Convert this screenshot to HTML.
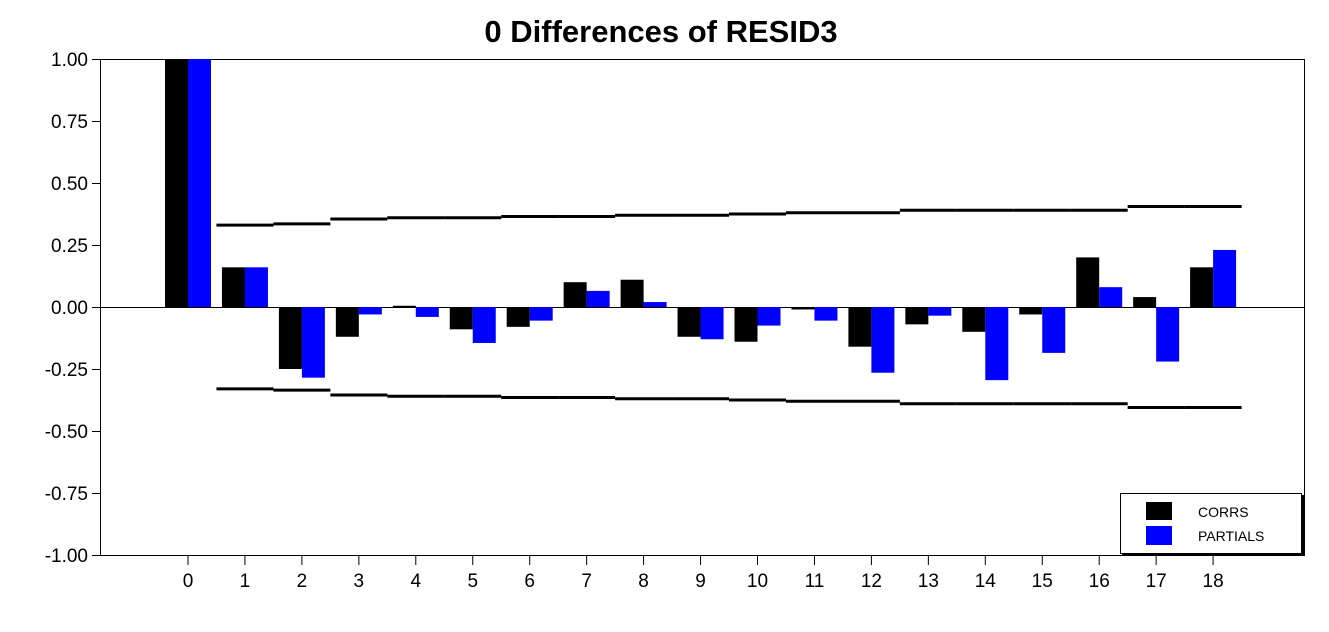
<!DOCTYPE html>
<html><head><meta charset="utf-8"><style>
body{margin:0;background:#fff}
text{font-family:"Liberation Sans",Arial,sans-serif}
</style></head><body>
<svg id="chart" width="1329" height="627" xmlns="http://www.w3.org/2000/svg">
<text x="661" y="42" text-anchor="middle" font-size="31" font-weight="bold">0 Differences of RESID3</text>
<rect x="100.5" y="59.5" width="1204" height="496" fill="none" stroke="#000" stroke-width="1"/>
<g id="g"></g>
<g>
<rect x="1122" y="495" width="182" height="61" fill="#000"/>
<rect x="1120.5" y="493.5" width="181" height="60" fill="#fff" stroke="#000"/>
<rect x="1146" y="502" width="26" height="18" fill="#000"/>
<rect x="1146" y="526" width="26" height="19" fill="#0000ff"/>
<text x="1198" y="517" font-size="14">CORRS</text>
<text x="1198" y="541" font-size="14">PARTIALS</text>
</g>
</svg>
<script>
const lags=[0,1,2,3,4,5,6,7,8,9,10,11,12,13,14,15,16,17,18];
const corrs=[1,0.16,-0.25,-0.12,0.005,-0.09,-0.08,0.10,0.11,-0.12,-0.14,-0.01,-0.16,-0.07,-0.10,-0.03,0.20,0.04,0.16];
const partials=[1,0.16,-0.285,-0.03,-0.04,-0.145,-0.055,0.065,0.02,-0.13,-0.075,-0.055,-0.265,-0.035,-0.295,-0.185,0.08,-0.22,0.23];
const bounds=[null,0.33,0.335,0.355,0.36,0.36,0.365,0.365,0.37,0.37,0.375,0.38,0.38,0.39,0.39,0.39,0.39,0.405,0.405];
const yTicks=["1.00","0.75","0.50","0.25","0.00","-0.25","-0.50","-0.75","-1.00"];
const NS="http://www.w3.org/2000/svg";
const g=document.getElementById('g');
const y=v=>307-v*248;
const x=i=>188+i*56.95;
function mk(t,a){const e=document.createElementNS(NS,t);for(const k in a)e.setAttribute(k,a[k]);g.appendChild(e);return e;}
yTicks.forEach(t=>{const v=parseFloat(t);
 const l=mk('line',{x1:92,x2:100,y1:y(v)+0.5,y2:y(v)+0.5,stroke:'#000'});
 
 const tx=mk('text',{x:88,y:y(v)+7,'text-anchor':'end','font-size':'19'});tx.textContent=t;
 });
const z=mk('line',{x1:100,x2:1304,y1:307.5,y2:307.5,stroke:'#000'});

lags.forEach((L,i)=>{
 const cx=x(i);
 const t=mk('line',{x1:cx,x2:cx,y1:556,y2:565,stroke:'#000'});
 
 const tx=mk('text',{x:cx,y:587,'text-anchor':'middle','font-size':'19'});tx.textContent=L;
 
 const c=corrs[i],p=partials[i];
 const b1=mk('rect',{x:cx-23,width:23,y:Math.min(y(c),y(0)),height:Math.abs(y(c)-y(0)),fill:'#000'});
 
 const b2=mk('rect',{x:cx,width:23,y:Math.min(y(p),y(0)),height:Math.abs(y(p)-y(0)),fill:'#0000ff'});
 
 if(bounds[i]!=null){
  [1,-1].forEach(s=>{const l=mk('line',{x1:cx-28.5,x2:cx+28.5,y1:y(s*bounds[i]),y2:y(s*bounds[i]),stroke:'#000','stroke-width':3});
   });
 }
});
</script>
</body></html>
